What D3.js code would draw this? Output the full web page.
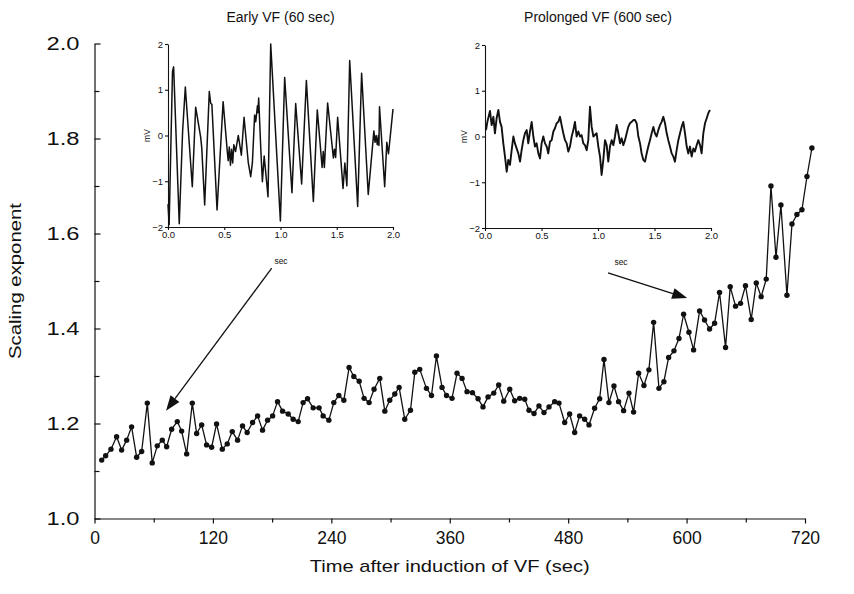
<!DOCTYPE html>
<html>
<head>
<meta charset="utf-8">
<script src="https://cdn.jsdelivr.net/npm/d3@7"></script>
<style>
body { margin: 0; background: #fff; }
text { font-family: "Liberation Sans", Arial, sans-serif; fill: #111; }
</style>
</head>
<body>
<div id="chart"></div>
<script>
// main series: time after induction (sec) and scaling exponent
var times = [7.3, 11.3, 16.7, 22.4, 27.5, 32.6, 37.6, 42.7, 47.8, 53.5, 58.5, 63.6, 68.7, 73.1, 78.2, 83.9, 88.3, 93.4, 99.1, 103.5,
    108.6, 113.6, 118.7, 123.7, 129.5, 134.5, 139.6, 145, 150, 154.7, 160.2, 165.3, 170.3, 175.4, 180.5, 185.5, 190.6, 196.3,
    201.3, 206.4, 211.4, 215.9, 221.6, 227.6, 231.7, 237.5, 242.5, 247.6, 252.7, 258, 262.8, 268.2, 273.2, 278.3, 283.3, 289.1,
    294.2, 299.2, 304.3, 308.7, 314.4, 320.2, 324.6, 329.6, 336.4, 341.5, 346.5, 352.2, 356.7, 362.3, 367.4, 372.5, 377.5, 383, 388.7,
    393.7, 398.8, 404.6, 409.6, 414.7, 420.8, 425.8, 430.9, 436, 440.3, 445.4, 450.4, 455.5, 460.6, 466.3, 470.7, 476.5, 481.5,
    486.6, 491.6, 496.7, 501.1, 506.8, 511.9, 516.3, 521.3, 526.4, 531.1, 536.2, 541.6, 546.3, 551.4, 556.8, 561.8, 566.6, 572,
    577, 581.8, 587.2, 592.3, 597, 602.4, 607.1, 613.2, 618.2, 623.3, 628.4, 633.4, 639.5, 644.2, 649.6, 654.7, 659.7, 665.5,
    670.6, 675.6, 680.7, 685.5, 690.6, 695.6, 701.7, 706.8, 711.8, 716.9, 722, 727];
var exponent = [1.123, 1.132, 1.146, 1.172, 1.144, 1.165, 1.193, 1.129, 1.141, 1.243, 1.117, 1.153, 1.165, 1.151, 1.188, 1.204, 1.184, 1.136, 1.243, 1.179,
    1.197, 1.155, 1.150, 1.199, 1.146, 1.157, 1.183, 1.165, 1.195, 1.181, 1.202, 1.216, 1.186, 1.207, 1.216, 1.246, 1.226, 1.220,
    1.209, 1.204, 1.244, 1.252, 1.233, 1.233, 1.216, 1.207, 1.244, 1.259, 1.249, 1.318, 1.299, 1.289, 1.253, 1.244, 1.272, 1.295,
    1.226, 1.249, 1.262, 1.276, 1.209, 1.228, 1.308, 1.314, 1.274, 1.259, 1.342, 1.276, 1.259, 1.253, 1.306, 1.295, 1.267, 1.265, 1.252,
    1.235, 1.256, 1.264, 1.281, 1.247, 1.272, 1.248, 1.253, 1.251, 1.228, 1.221, 1.237, 1.223, 1.235, 1.246, 1.243, 1.202, 1.220,
    1.181, 1.216, 1.209, 1.197, 1.232, 1.252, 1.335, 1.244, 1.279, 1.246, 1.227, 1.264, 1.224, 1.306, 1.280, 1.313, 1.413, 1.274,
    1.288, 1.339, 1.353, 1.379, 1.430, 1.392, 1.355, 1.437, 1.418, 1.399, 1.411, 1.476, 1.360, 1.488, 1.447, 1.453, 1.490, 1.419,
    1.496, 1.467, 1.504, 1.70, 1.55, 1.66, 1.47, 1.62, 1.64, 1.65, 1.72, 1.78];

var xTicks = [0, 120, 240, 360, 480, 600, 720];
var xMinor = [60, 180, 300, 420, 540, 660];
var yTicks = [1.0, 1.2, 1.4, 1.6, 1.8, 2.0];
var yMinor = [1.1, 1.3, 1.5, 1.7, 1.9];

// inset ECG traces: [sec, mV]
var earlyT = [0, 0.01, 0.04, 0.05, 0.1, 0.13, 0.154, 0.216, 0.246, 0.29, 0.3, 0.326, 0.367, 0.38, 0.39, 0.436, 0.49, 0.527, 0.535,
    0.545, 0.555, 0.565, 0.575, 0.585, 0.6, 0.625, 0.652, 0.676, 0.714, 0.735, 0.75, 0.77, 0.78, 0.795, 0.8, 0.806, 0.825, 0.839,
    0.855, 0.889, 0.913, 0.999, 1.037, 1.102, 1.135, 1.188, 1.23, 1.292, 1.327, 1.37, 1.38, 1.39, 1.419, 1.47, 1.48, 1.49, 1.508,
    1.556, 1.572, 1.59, 1.615, 1.686, 1.721, 1.78, 1.83, 1.84, 1.85, 1.86, 1.87, 1.875, 1.88, 1.926, 1.945, 1.96, 2.0];
var earlyV = [-1.5, -1.95, 1.4, 1.5, -1.93, 0.1, 1.06, -1.12, 0.62, -0.03, -0.27, -1.52, 0.96, 0.7, 0.68, -1.63, 0.74, -0.35, -0.55,
    -0.25, -0.65, -0.3, -0.6, -0.2, -0.35, 0.0, -0.43, 0.4, -0.6, -0.9, -0.6, 0.45, 0.3, 0.65, 0.5, 0.82, -0.3, -1.01,
    -0.45, -1.34, 2.0, -1.87, 1.27, -1.25, 0.7, -1.06, 1.2, -1.44, 0.56, -0.7, -0.35, -0.7, 0.71, -0.49, -0.3, -0.48, 0.4,
    -1.16, -0.6, -1.1, 1.64, -1.55, 1.36, -1.29, 0.1, -0.15, 0.0, -0.2, 0.0, -0.22, 0.63, -1.12, -0.15, -0.4, 0.58];

var lateT = [0.009, 0.021, 0.044, 0.059, 0.074, 0.088, 0.103, 0.118, 0.133, 0.147, 0.162, 0.177, 0.192, 0.206, 0.221, 0.236, 0.251,
    0.265, 0.28, 0.295, 0.31, 0.324, 0.339, 0.354, 0.369, 0.383, 0.398, 0.413, 0.428, 0.442, 0.457, 0.472, 0.487, 0.501, 0.516,
    0.531, 0.546, 0.56, 0.575, 0.59, 0.605, 0.619, 0.634, 0.649, 0.664, 0.678, 0.693, 0.708, 0.723, 0.737, 0.752, 0.767, 0.782,
    0.796, 0.811, 0.826, 0.841, 0.855, 0.87, 0.885, 0.9, 0.914, 0.929, 0.944, 0.959, 0.988, 1.003, 1.018, 1.032, 1.047, 1.062,
    1.077, 1.091, 1.106, 1.121, 1.136, 1.15, 1.165, 1.18, 1.195, 1.209, 1.224, 1.239, 1.254, 1.268, 1.283, 1.298, 1.313, 1.327,
    1.342, 1.357, 1.372, 1.386, 1.401, 1.416, 1.431, 1.445, 1.46, 1.475, 1.49, 1.504, 1.519, 1.534, 1.549, 1.563, 1.578, 1.593,
    1.608, 1.622, 1.637, 1.652, 1.667, 1.681, 1.696, 1.711, 1.726, 1.74, 1.755, 1.77, 1.785, 1.799, 1.814, 1.829, 1.844, 1.858,
    1.873, 1.888, 1.903, 1.917, 1.932, 1.947, 1.962, 1.976, 1.991];
var lateV = [0.14, 0.32, 0.56, 0.25, 0.43, 0.07, 0.40, 0.58, 0.32, 0.21, -0.15, -0.44, -0.77, -0.51, -0.62, -0.30, 0.00,
    -0.15, -0.26, -0.37, -0.55, -0.30, -0.08, 0.07, 0.14, -0.15, 0.11, 0.32, 0.00, -0.22, -0.15, -0.37, -0.48, -0.15, 0.00,
    -0.15, -0.22, -0.37, -0.11, -0.08, 0.11, 0.18, 0.29, 0.32, 0.43, 0.25, 0.07, -0.08, -0.15, -0.33, -0.22, 0.00, 0.14,
    0.32, 0.00, 0.11, 0.00, 0.03, -0.15, -0.19, -0.30, -0.08, 0.65, 0.21, 0.00, 0.07, -0.22, -0.44, -0.84, -0.51, -0.08,
    -0.19, -0.55, -0.22, -0.08, -0.19, 0.00, 0.25, 0.07, -0.15, -0.04, -0.19, -0.08, 0.07, 0.21, 0.29, 0.32, 0.36, 0.36,
    0.29, 0.00, -0.15, -0.37, -0.51, -0.55, -0.37, -0.22, -0.08, 0.07, 0.21, 0.07, 0.00, 0.14, 0.25, 0.32, 0.43, 0.29,
    0.07, -0.08, -0.22, -0.37, -0.44, -0.55, -0.30, -0.08, 0.07, 0.21, 0.32, 0.07, -0.22, -0.37, -0.22, -0.44, -0.26, -0.33,
    -0.19, -0.08, -0.19, -0.37, 0.07, 0.29, 0.40, 0.51, 0.58];

var insetXTicks = [0, 0.5, 1.0, 1.5, 2.0];
var insetYTicks = [-2, -1, 0, 1, 2];

// arrows in main-chart units: [sec, exponent]
var arrowFrom = [[179.6, 1.527], [520.4, 1.517]];
var arrowTo = [[72.5, 1.227], [600.6, 1.464]];

var svgWidth = 854;
var svgHeight = 594;

var svg = d3.select("#chart")
    .append("svg")
    .attr("width", svgWidth)
    .attr("height", svgHeight);

var x = d3.scaleLinear().domain([0, 720]).range([94.5, 805]);
var y = d3.scaleLinear().domain([1, 2]).range([518.5, 43.5]);

// x axis, ticks out
svg.append("g")
    .attr("class", "x axis")
    .attr("transform", "translate(0," + y(1) + ")")
    .call(d3.axisBottom(x).tickValues(xTicks).tickSize(5).tickSizeOuter(0).tickPadding(8))
    .call(g => g.selectAll("text").style("font-size", "17.5px"));
svg.append("g")
    .attr("transform", "translate(0," + y(1) + ")")
    .call(d3.axisBottom(x).tickValues(xMinor).tickSize(4).tickFormat(""))
    .call(g => g.select(".domain").remove());

// y axis, ticks in; labels a bit wide like the source figure
svg.append("g")
    .attr("class", "y axis")
    .attr("transform", "translate(" + x(0) + ",0)")
    .call(d3.axisLeft(y).tickValues(yTicks).tickFormat(d3.format(".1f")).tickSize(-6).tickSizeOuter(0).tickPadding(15))
    .call(g => g.selectAll("text")
        .style("font-size", "17.5px")
        .attr("textLength", 33)
        .attr("lengthAdjust", "spacingAndGlyphs"));
svg.append("g")
    .attr("transform", "translate(" + x(0) + ",0)")
    .call(d3.axisLeft(y).tickValues(yMinor).tickSize(-5).tickFormat(""))
    .call(g => g.select(".domain").remove());

svg.selectAll(".domain, .tick line").attr("stroke", "#111").attr("stroke-width", 1.2);

// axis titles
svg.append("text")
    .attr("x", (x(0) + x(720)) / 2)
    .attr("y", 572)
    .attr("text-anchor", "middle")
    .attr("textLength", 280)
    .attr("lengthAdjust", "spacingAndGlyphs")
    .style("font-size", "17px")
    .text("Time after induction of VF (sec)");

svg.append("text")
    .attr("transform", "translate(21," + ((y(1) + y(2)) / 2) + ") rotate(-90)")
    .attr("text-anchor", "middle")
    .attr("textLength", 156)
    .attr("lengthAdjust", "spacingAndGlyphs")
    .style("font-size", "17px")
    .text("Scaling exponent");

// series
var list = times.map((t, i) => ({ t: t, v: exponent[i] }));

svg.append("path")
    .datum(list)
    .attr("fill", "none")
    .attr("stroke", "#111")
    .attr("stroke-width", 1.3)
    .attr("stroke-linejoin", "round")
    .attr("d", d3.line().x(d => x(d.t)).y(d => y(d.v)));

svg.append("g")
    .selectAll("circle")
    .data(list)
    .join("circle")
    .attr("cx", d => x(d.t))
    .attr("cy", d => y(d.v))
    .attr("r", 2.7)
    .attr("fill", "#111");

// arrows
arrowFrom.forEach(function (p, i) {
    var x1 = x(p[0]), y1 = y(p[1]);
    var x2 = x(arrowTo[i][0]), y2 = y(arrowTo[i][1]);
    var a = Math.atan2(y2 - y1, x2 - x1);
    var len = 15, half = 5.5;
    var bx = x2 - len * Math.cos(a), by = y2 - len * Math.sin(a);
    svg.append("line")
        .attr("x1", x1).attr("y1", y1)
        .attr("x2", bx).attr("y2", by)
        .attr("stroke", "#111")
        .attr("stroke-width", 1.3);
    svg.append("path")
        .attr("d", "M" + x2 + "," + y2 +
            "L" + (bx + half * Math.sin(a)) + "," + (by - half * Math.cos(a)) +
            "L" + (bx - half * Math.sin(a)) + "," + (by + half * Math.cos(a)) + "Z")
        .attr("fill", "#111");
});

// insets
function drawInset(ts, vs, box, title, secX, sw) {
    var ix = d3.scaleLinear().domain([0, 2]).range([box.x0, box.x1]);
    var iy = d3.scaleLinear().domain([-2, 2]).range([box.y1, box.y0]);
    var g = svg.append("g").attr("class", "inset");

    g.append("g")
        .attr("transform", "translate(0," + box.y1 + ")")
        .call(d3.axisBottom(ix).tickValues(insetXTicks).tickFormat(d3.format(".1f")).tickSize(3).tickSizeOuter(0).tickPadding(1))
        .call(a => a.selectAll("text").style("font-size", "9.5px"));
    g.append("g")
        .attr("transform", "translate(" + box.x0 + ",0)")
        .call(d3.axisLeft(iy).tickValues(insetYTicks).tickFormat(d3.format("d")).tickSize(3).tickSizeOuter(0).tickPadding(2))
        .call(a => a.selectAll("text").style("font-size", "9.5px"));
    g.selectAll(".domain, .tick line").attr("stroke", "#111").attr("stroke-width", 1.1);

    g.append("path")
        .datum(ts.map((t, i) => [t, vs[i]]))
        .attr("fill", "none")
        .attr("stroke", "#111")
        .attr("stroke-width", sw)
        .attr("stroke-linejoin", "round")
        .attr("d", d3.line().x(d => ix(d[0])).y(d => iy(d[1])));

    g.append("text")
        .attr("x", (box.x0 + box.x1) / 2)
        .attr("y", 22)
        .attr("text-anchor", "middle")
        .style("font-size", "14px")
        .text(title);
    g.append("text")
        .attr("transform", "translate(" + (box.x0 - 18) + "," + iy(0) + ") rotate(-90)")
        .attr("text-anchor", "middle")
        .style("font-size", "8.5px")
        .text("mV");
    g.append("text")
        .attr("x", secX)
        .attr("y", box.y1 + 37)
        .attr("text-anchor", "middle")
        .style("font-size", "8.5px")
        .text("sec");
}

drawInset(earlyT, earlyV, { x0: 168, x1: 393, y0: 44, y1: 227 }, "Early VF (60 sec)", 281, 1.5);
drawInset(lateT, lateV, { x0: 485, x1: 711, y0: 45, y1: 228 }, "Prolonged VF (600 sec)", 621, 1.9);
</script>
</body>
</html>
